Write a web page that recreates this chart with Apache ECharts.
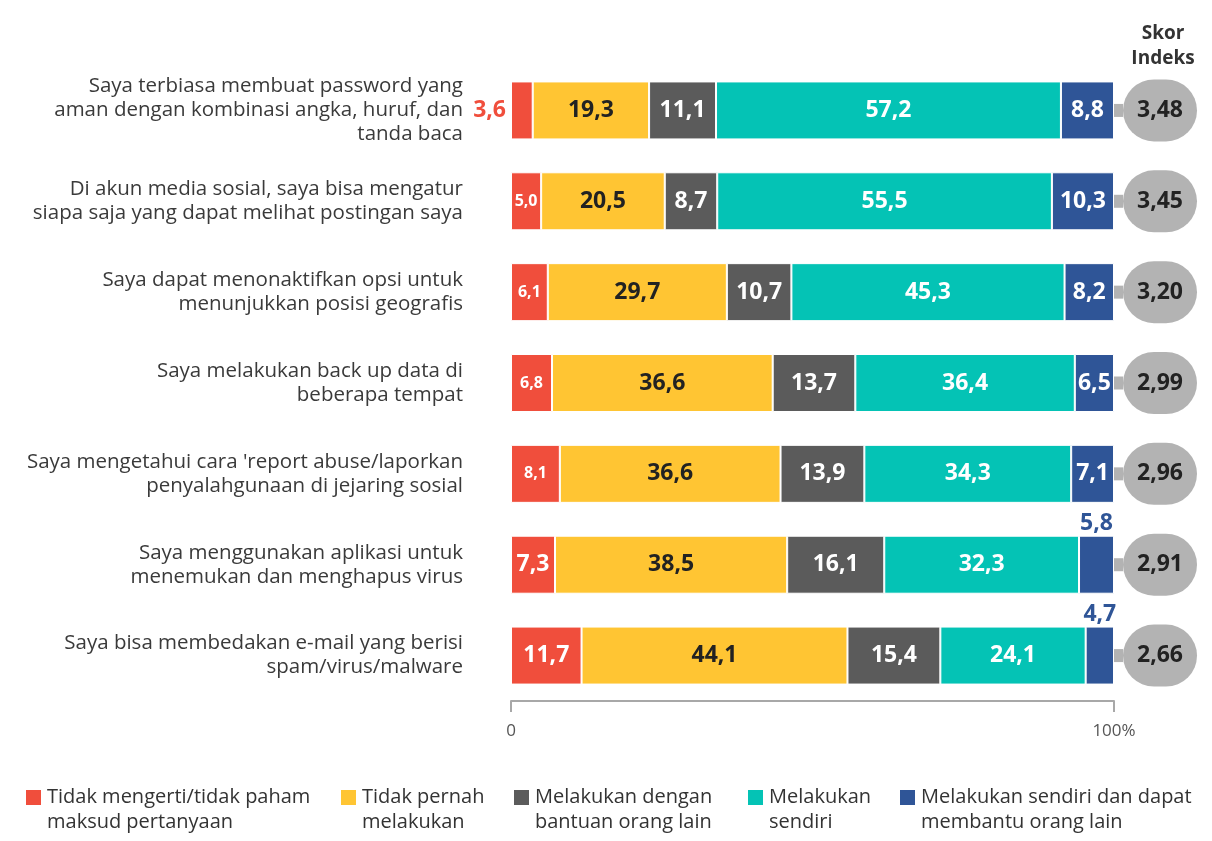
<!DOCTYPE html>
<html>
<head>
<meta charset="utf-8">
<script src="https://cdn.jsdelivr.net/npm/echarts@6/dist/echarts.min.js"></script>
<style>
  html, body { margin: 0; padding: 0; background: #fff; }
  #chart { width: 1212px; height: 841px; }
</style>
</head>
<body>
<div id="chart"></div>
<script>
var categories = [
  "Saya terbiasa membuat password yang\naman dengan kombinasi angka, huruf, dan\ntanda baca",
  "Di akun media sosial, saya bisa mengatur\nsiapa saja yang dapat melihat postingan saya",
  "Saya dapat menonaktifkan opsi untuk\nmenunjukkan posisi geografis",
  "Saya melakukan back up data di\nbeberapa tempat",
  "Saya mengetahui cara 'report abuse/laporkan\npenyalahgunaan di jejaring sosial",
  "Saya menggunakan aplikasi untuk\nmenemukan dan menghapus virus",
  "Saya bisa membedakan e-mail yang berisi\nspam/virus/malware"
];
var seriesNames = [
  "Tidak mengerti/tidak paham maksud pertanyaan",
  "Tidak pernah melakukan",
  "Melakukan dengan bantuan orang lain",
  "Melakukan sendiri",
  "Melakukan sendiri dan dapat membantu orang lain"
];
var legendLabels = [
  "Tidak mengerti/tidak paham\nmaksud pertanyaan",
  "Tidak pernah\nmelakukan",
  "Melakukan dengan\nbantuan orang lain",
  "Melakukan\nsendiri",
  "Melakukan sendiri dan dapat\nmembantu orang lain"
];
var tidakMengerti = [3.6, 5.0, 6.1, 6.8, 8.1, 7.3, 11.7];
var tidakPernah   = [19.3, 20.5, 29.7, 36.6, 36.6, 38.5, 44.1];
var denganBantuan = [11.1, 8.7, 10.7, 13.7, 13.9, 16.1, 15.4];
var sendiri       = [57.2, 55.5, 45.3, 36.4, 34.3, 32.3, 24.1];
var membantu      = [8.8, 10.3, 8.2, 6.5, 7.1, 5.8, 4.7];
var skorIndeks    = [3.48, 3.45, 3.20, 2.99, 2.96, 2.91, 2.66];
var xTickLabels   = { 0: "0", 100: "100%" };

var colors = ["#F04E3C", "#FFC533", "#5B5B5B", "#04C3B5", "#2F5597"];
var labelColors = ["#ffffff", "#222222", "#ffffff", "#ffffff", "#ffffff"];
var FONT = "Open Sans";

function fmt1(v) { return v.toFixed(1).replace('.', ','); }
function fmt2(v) { return v.toFixed(2).replace('.', ','); }

// per-item label overrides (style only)
var labelOverrides = {
  0: {
    0: { position: 'left', distance: 5, color: colors[0] },
    1: { fontSize: 16 }, 2: { fontSize: 16 }, 3: { fontSize: 16 }, 4: { fontSize: 16 }
  },
  4: {
    5: { position: 'top', distance: 1, color: colors[4] },
    6: { position: 'top', distance: 1, color: colors[4] }
  }
};

var allValues = [tidakMengerti, tidakPernah, denganBantuan, sendiri, membantu];

var series = allValues.map(function (vals, si) {
  return {
    name: seriesNames[si],
    type: 'bar',
    stack: 'total',
    barWidth: 58,
    yAxisIndex: 0,
    itemStyle: { color: colors[si], borderColor: '#ffffff', borderWidth: 1 },
    label: {
      show: true,
      position: 'inside',
      color: labelColors[si],
      fontFamily: FONT,
      fontWeight: 'bold',
      fontSize: 23,
      formatter: function (p) { return fmt1(p.value); }
    },
    emphasis: { disabled: true },
    data: vals.map(function (v, i) {
      var o = { value: v };
      var ov = labelOverrides[si] && labelOverrides[si][i];
      if (ov) o.label = ov;
      return o;
    })
  };
});

var legendLefts = [24, 339, 512, 746, 898];
var legends = seriesNames.map(function (n, i) {
  return {
    data: [{ name: n, icon: 'rect' }],
    left: legendLefts[i],
    top: 760,
    padding: 0,
    itemWidth: 17,
    itemHeight: 17,
    itemGap: 0,
    selectedMode: false,
    formatter: function () { return '\n' + legendLabels[i]; },
    textStyle: {
      fontFamily: FONT, fontSize: 20, color: '#333333', lineHeight: 25
    }
  };
});

var chart = echarts.init(document.getElementById('chart'), null, { renderer: 'canvas' });
chart.setOption({
  animation: false,
  backgroundColor: '#ffffff',
  textStyle: { fontFamily: FONT },
  grid: { left: 511, right: 98, top: 65, height: 636 },
  legend: legends,
  xAxis: {
    type: 'value',
    min: 0, max: 100, interval: 100,
    axisLine: { show: true, lineStyle: { color: '#a8a8a8', width: 2 } },
    axisTick: { show: true, length: 11, lineStyle: { color: '#a8a8a8', width: 2 } },
    splitLine: { show: false },
    axisLabel: {
      color: '#555555', fontSize: 17, fontFamily: FONT, margin: 22,
      formatter: function (v) { return xTickLabels[v] || ''; }
    }
  },
  yAxis: [
    {
      type: 'category',
      data: categories,
      inverse: true,
      axisLine: { show: false },
      axisTick: { show: false },
      axisLabel: {
        color: '#3a3a3a', fontSize: 20.5, lineHeight: 24, fontFamily: FONT,
        margin: 48, align: 'right'
      }
    },
    {
      type: 'category',
      data: skorIndeks.map(fmt2),
      inverse: true,
      position: 'right',
      axisLine: { show: false },
      axisTick: { show: false },
      axisLabel: {
        margin: 0,
        formatter: function (v) { return '{c| }{b|' + v + '}'; },
        rich: {
          c: { backgroundColor: '#b3b3b3', width: 9, height: 13, fontSize: 1 },
          b: {
            backgroundColor: '#b3b3b3', width: 74, height: 62, borderRadius: 31,
            align: 'center', fontSize: 23, fontWeight: 'bold', color: '#222222',
            fontFamily: FONT
          }
        }
      }
    }
  ],
  graphic: [{
    type: 'text',
    x: 1163, y: 21,
    style: {
      text: 'Skor\nIndeks', align: 'center', verticalAlign: 'top',
      font: 'bold 19px "' + FONT + '"', fill: '#333333', lineHeight: 25
    }
  }],
  series: series
});
</script>
</body>
</html>
